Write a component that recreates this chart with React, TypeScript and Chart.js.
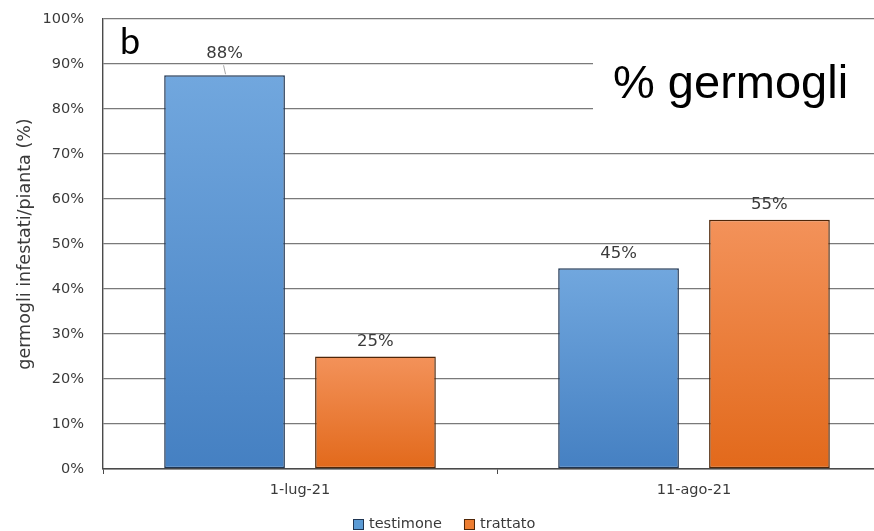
import { useEffect, useRef } from "react";
import { Chart, registerables } from "chart.js";

Chart.register(...registerables);

// ---- data ----
const categories = ["1-lug-21", "11-ago-21"];
const seriesNames = ["testimone", "trattato"];
const testimone = [87.5, 44.6];
const trattato = [25, 55.4];
const yTitle = "germogli infestati/pianta (%)";
const panelLetter = "b";
const panelTitle = "% germogli";

const FONT = "'DejaVu Sans', sans-serif";
const TEXT = "#3a3a3a";

const gradStops: Record<string, [string, string]> = {
  testimone: ["#71a7de", "#4580c2"],
  trattato: ["#f3925a", "#e2691b"],
};
const borderCols: Record<string, string> = {
  testimone: "#1f3552",
  trattato: "#4f2608",
};
const legendFill: Record<string, string> = {
  testimone: "#5b9bd5",
  trattato: "#ed7d31",
};

function makeGradient(name: string, fallback: string) {
  return (ctx: any) => {
    const chart = ctx.chart;
    if (!chart.chartArea || ctx.type !== "data") return fallback;
    const y = chart.scales.y;
    const top = y.getPixelForValue(ctx.raw);
    const bottom = y.getPixelForValue(0);
    const g = chart.ctx.createLinearGradient(0, top, 0, bottom);
    g.addColorStop(0, gradStops[name][0]);
    g.addColorStop(1, gradStops[name][1]);
    return g;
  };
}

const decorPlugin = {
  id: "decor",
  afterDatasetsDraw(chart: any) {
    const c = chart.ctx;
    // data labels
    const lifts = [
      [22, 15],
      [15, 15],
    ];
    c.save();
    c.font = `16.5px ${FONT}`;
    c.fillStyle = TEXT;
    c.textAlign = "center";
    c.textBaseline = "middle";
    chart.data.datasets.forEach((ds: any, di: number) => {
      const meta = chart.getDatasetMeta(di);
      meta.data.forEach((bar: any, i: number) => {
        const v = ds.data[i];
        const lift = lifts[di][i];
        const ty = bar.y - lift;
        c.fillText(Math.round(v) + "%", bar.x, ty);
        if (lift > 15) {
          c.save();
          c.strokeStyle = "#a6a6a6";
          c.lineWidth = 1;
          c.beginPath();
          c.moveTo(bar.x - 1, ty + 12);
          c.lineTo(bar.x + 1, bar.y - 1);
          c.stroke();
          c.restore();
        }
      });
    });
    c.restore();
  },
  afterDraw(chart: any) {
    const c = chart.ctx;
    c.save();
    // panel title box
    c.fillStyle = "#ffffff";
    c.fillRect(593, 40, 400, 80);
    c.fillStyle = "#000000";
    c.font = `47px 'Liberation Sans', Arial, sans-serif`;
    c.textAlign = "left";
    c.textBaseline = "alphabetic";
    c.fillText(panelTitle, 613, 98);
    // panel letter
    c.font = `36px Lato, sans-serif`;
    c.fillText(panelLetter, 120, 54);
    // legend
    let x = 353;
    const yc = 524;
    c.font = `14.5px ${FONT}`;
    c.textBaseline = "middle";
    chart.data.datasets.forEach((ds: any) => {
      c.fillStyle = legendFill[ds.label];
      c.fillRect(x, yc - 5, 11, 11);
      c.strokeStyle = borderCols[ds.label];
      c.lineWidth = 1;
      c.strokeRect(x + 0.5, yc - 4.5, 10, 10);
      c.fillStyle = TEXT;
      c.fillText(ds.label, x + 16, yc);
      x += 16 + c.measureText(ds.label).width + 22;
    });
    c.restore();
  },
};

export default function App() {
  const ref = useRef<HTMLCanvasElement | null>(null);
  useEffect(() => {
    if (!ref.current) return;
    const chart = new Chart(ref.current, {
      type: "bar",
      data: {
        labels: categories,
        datasets: [
          {
            label: seriesNames[0],
            data: testimone,
            backgroundColor: makeGradient("testimone", "#5b9bd5"),
            borderColor: borderCols.testimone,
            borderWidth: 1.5,
            borderSkipped: false,
            categoryPercentage: 0.766,
            barPercentage: 0.8,
          },
          {
            label: seriesNames[1],
            data: trattato,
            backgroundColor: makeGradient("trattato", "#ed7d31"),
            borderColor: borderCols.trattato,
            borderWidth: 1.5,
            borderSkipped: false,
            categoryPercentage: 0.766,
            barPercentage: 0.8,
          },
        ],
      },
      options: {
        responsive: false,
        animation: false,
        devicePixelRatio: 1,
        layout: { padding: { top: 19, right: 20, bottom: 0, left: 0 } },
        plugins: {
          legend: { display: false },
          tooltip: { enabled: false },
        },
        scales: {
          x: {
            grid: {
              offset: true,
              drawOnChartArea: false,
              drawTicks: true,
              tickLength: 5,
              color: "#4a4a4a",
            },
            border: { color: "#4a4a4a", width: 1.4 },
            ticks: { font: { family: FONT, size: 14.5 }, color: TEXT, padding: 8 },
            afterFit: (s: any) => {
              s.height = 62;
            },
          },
          y: {
            min: 0,
            max: 100,
            ticks: {
              stepSize: 10,
              callback: (v: any) => v + "%",
              font: { family: FONT, size: 14.5 },
              color: TEXT,
              padding: 4,
            },
            grid: {
              color: "#7a7a7a",
              drawTicks: true,
              tickLength: 15,
              tickColor: "rgba(0,0,0,0)",
              lineWidth: 1.3,
            },
            border: { color: "#4a4a4a", width: 1.4 },
            title: {
              display: true,
              text: yTitle,
              font: { family: FONT, size: 17.5 },
              color: TEXT,
              padding: { top: 15, bottom: 0 },
            },
            afterFit: (s: any) => {
              s.width = 103;
            },
          },
        },
      },
      plugins: [decorPlugin],
    });
    return () => chart.destroy();
  }, []);
  return (
    <div
      style={{
        position: "fixed",
        left: 0,
        top: 0,
        width: 874,
        height: 531,
        overflow: "hidden",
        background: "#ffffff",
      }}
    >
      <canvas ref={ref} width={911} height={531} style={{ width: 911, height: 531, display: "block" }} />
    </div>
  );
}
